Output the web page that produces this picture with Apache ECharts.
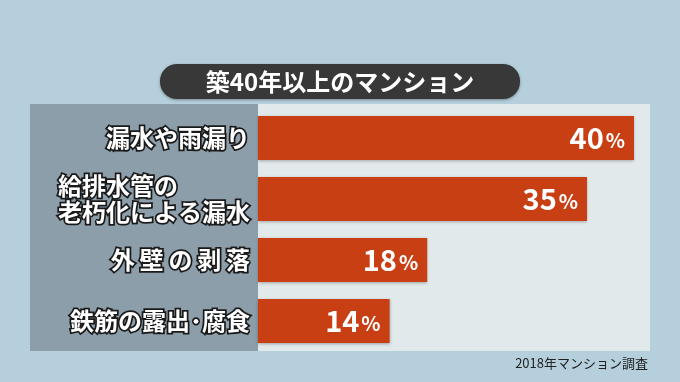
<!DOCTYPE html>
<html><head><meta charset="utf-8">
<script src="https://cdn.jsdelivr.net/npm/echarts@6/dist/echarts.min.js"></script>
<style>html,body{margin:0;padding:0;background:#b5d0dc;}#c{width:680px;height:382px;}</style>
</head><body><div id="c"></div>
<script>
const title = '築40年以上のマンション';
const source = '2018年マンション調査';
const categories = ['漏水や雨漏り', '給排水管の　　　\n老朽化による漏水', '外\u2009壁\u2009の\u2009剥\u2009落', '鉄筋の露出･腐食'];
const values = [40, 35, 18, 14];
const unit = '%';

const jp = '"Noto Sans CJK JP", sans-serif';
const chart = echarts.init(document.getElementById('c'), null, {renderer: 'canvas'});
chart.setOption({
  backgroundColor: '#b5d0dc',
  animation: false,
  graphic: [
    {type: 'rect', shape: {x: 30, y: 104, width: 228, height: 247}, style: {fill: '#8c9ea9'}, z: -10},
    {type: 'rect', shape: {x: 258, y: 104, width: 392, height: 247}, style: {fill: '#e2e9eb'}, z: -10},
    {type: 'rect', shape: {x: 160, y: 64, width: 360, height: 35, r: 17}, style: {fill: '#383838', shadowColor: 'rgba(0,0,0,0.35)', shadowBlur: 3, shadowOffsetY: 1}, z: 5},
    {type: 'text', x: 340, y: 81.5, style: {text: title, fill: '#ffffff', font: 'bold 24px ' + jp, textAlign: 'center', textVerticalAlign: 'middle'}, z: 6},
    {type: 'text', x: 648, y: 363, style: {text: source, fill: '#222222', font: '13px ' + jp, textAlign: 'right', textVerticalAlign: 'middle'}, z: 6}
  ],
  grid: {left: 258, right: 30, top: 107.5, height: 244, containLabel: false},
  xAxis: {type: 'value', min: 0, max: 41.7, show: false},
  yAxis: {
    type: 'category', data: categories, inverse: true,
    axisLine: {show: false}, axisTick: {show: false},
    axisLabel: {
      margin: 8, color: '#ffffff', fontFamily: jp, fontWeight: 'bold', fontSize: 24,
      lineHeight: 26, textBorderColor: '#1a1a1a', textBorderWidth: 3.5, align: 'right'
    }
  },
  series: [{
    type: 'bar', data: values, barWidth: 44,
    itemStyle: {color: '#c93f14', shadowColor: 'rgba(0,0,0,0.3)', shadowBlur: 3, shadowOffsetY: 1},
    label: {
      show: true, position: 'insideRight', distance: 9,
      formatter: p => '{n|' + p.value + '}{u|' + unit + '}',
      rich: {
        n: {color: '#ffffff', fontFamily: jp, fontWeight: 'bold', fontSize: 29},
        u: {color: '#ffffff', fontFamily: jp, fontWeight: 'bold', fontSize: 20, padding: [4, 0, 0, 2]}
      }
    }
  }]
});
</script></body></html>
